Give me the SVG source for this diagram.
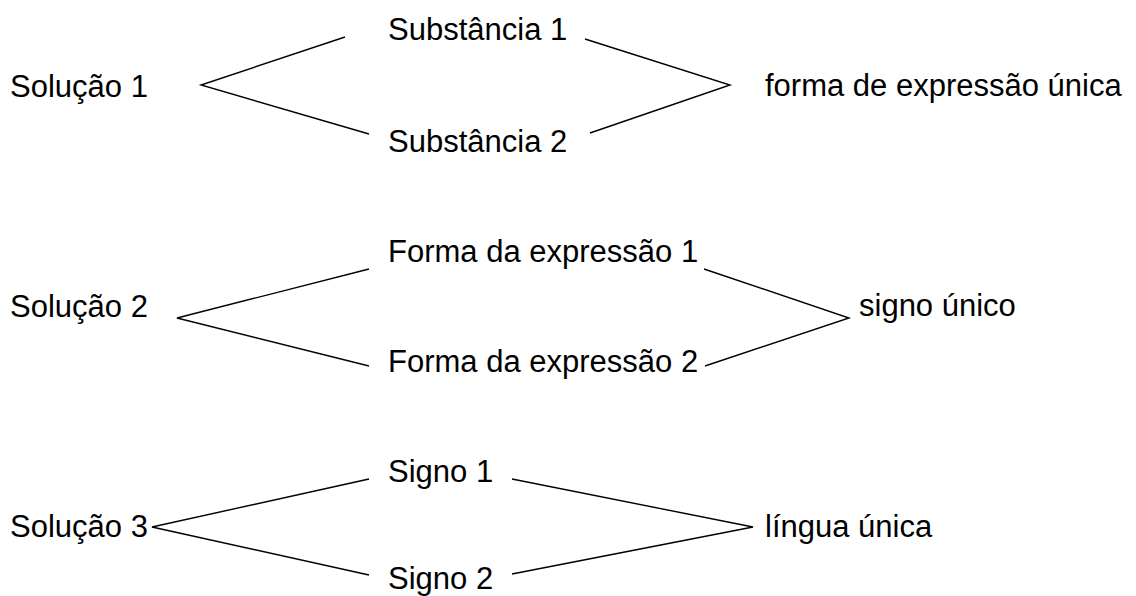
<svg xmlns="http://www.w3.org/2000/svg" width="1136" height="596" viewBox="0 0 1136 596">
<style>
text{font-family:"Liberation Sans",Arial,sans-serif;font-size:31px;fill:#000}
.c polyline{fill:none;stroke:#000;stroke-width:1.4}
</style>
<rect width="1136" height="596" fill="#fff"/>
<g id="sol1"><text x="10" y="97">Solução 1</text></g>
<g id="sub1"><text x="388" y="40">Substância 1</text></g>
<g id="sub2"><text x="388" y="152">Substância 2</text></g>
<g id="forma-unica"><text x="765" y="96">forma de expressão única</text></g>
<g id="sol2"><text x="10" y="317">Solução 2</text></g>
<g id="fe1"><text x="388" y="262">Forma da expressão 1</text></g>
<g id="fe2"><text x="388" y="372">Forma da expressão 2</text></g>
<g id="signo-unico"><text x="859" y="316">signo único</text></g>
<g id="sol3"><text x="10" y="537">Solução 3</text></g>
<g id="signo1"><text x="388" y="482">Signo 1</text></g>
<g id="signo2"><text x="388" y="589">Signo 2</text></g>
<g id="lingua-unica"><text x="765" y="537">língua única</text></g>
<g class="c" id="connectors">
<polyline points="345,37 201,85 369,134"/>
<polyline points="585,39 730,85 590,133"/>
<polyline points="369,269 177,318 369,366"/>
<polyline points="704,269 849,318 705,366"/>
<polyline points="369,479 152,527 369,575"/>
<polyline points="512,479 753,527 512,574"/>
</g>
</svg>
